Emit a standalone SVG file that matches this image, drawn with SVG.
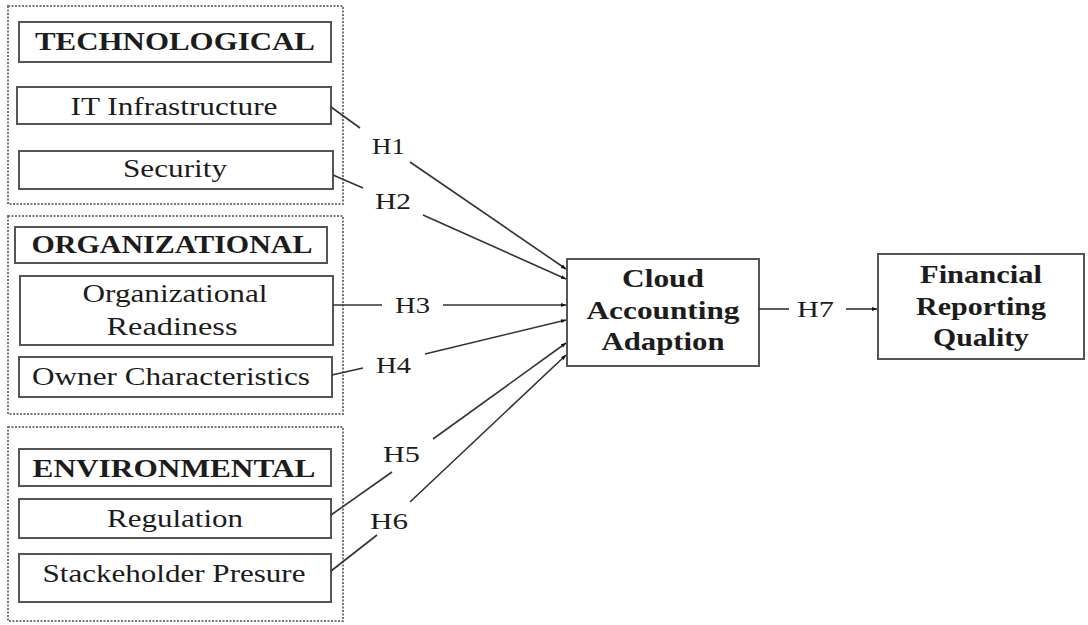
<svg xmlns="http://www.w3.org/2000/svg" width="1088" height="625" viewBox="0 0 1088 625">
<defs>
<style>
.grp{fill:none;stroke:#777;stroke-width:2;stroke-dasharray:2,1.5}
.box{fill:#fff;stroke:#555;stroke-width:2}
.t{font-family:"Liberation Serif","Times New Roman",Times,serif;fill:#1c1c1c;text-anchor:middle}
.h{font-size:26px;font-weight:bold}
.r{font-size:25px}
.b{font-size:25px;font-weight:bold}
.lbl{font-family:"Liberation Serif","Times New Roman",Times,serif;fill:#1c1c1c;font-size:23px}
.c{fill:none;stroke:#333;stroke-width:1.6}
</style>
<marker id="ah" viewBox="0 0 10 10" refX="10" refY="5" markerWidth="5" markerHeight="5" orient="auto" markerUnits="userSpaceOnUse">
<path d="M0,1 L10,5 L0,9 z" fill="#111"/>
</marker>
</defs>
<rect width="1088" height="625" fill="#fff"/>

<g id="group-technological">
<rect class="grp" x="8" y="6" width="335" height="198"/>
</g>
<g id="group-organizational">
<rect class="grp" x="8" y="216" width="335" height="198"/>
</g>
<g id="group-environmental">
<rect class="grp" x="8" y="427" width="335" height="194"/>
</g>

<g id="technological">
<rect class="box" x="19" y="22" width="312" height="40"/>
<text class="t h" x="175" y="50" textLength="280" lengthAdjust="spacingAndGlyphs">TECHNOLOGICAL</text>
</g>
<g id="it-infrastructure">
<rect class="box" x="17" y="87" width="314" height="37"/>
<text class="t r" x="174" y="115" textLength="207" lengthAdjust="spacingAndGlyphs">IT Infrastructure</text>
</g>
<g id="security">
<rect class="box" x="19" y="151" width="314" height="38"/>
<text class="t r" x="175" y="177" textLength="104" lengthAdjust="spacingAndGlyphs">Security</text>
</g>

<g id="organizational">
<rect class="box" x="15" y="227" width="312" height="36"/>
<text class="t h" x="172" y="253" textLength="281" lengthAdjust="spacingAndGlyphs">ORGANIZATIONAL</text>
</g>
<g id="organizational-readiness">
<rect class="box" x="20" y="276" width="313" height="69"/>
<text class="t r" x="175" y="302" textLength="185" lengthAdjust="spacingAndGlyphs">Organizational</text>
<text class="t r" x="172" y="335" textLength="131" lengthAdjust="spacingAndGlyphs">Readiness</text>
</g>
<g id="owner-characteristics">
<rect class="box" x="19" y="357" width="313" height="40"/>
<text class="t r" x="171" y="385" textLength="278" lengthAdjust="spacingAndGlyphs">Owner Characteristics</text>
</g>

<g id="environmental">
<rect class="box" x="19" y="449" width="312" height="37"/>
<text class="t h" x="174" y="477" textLength="283" lengthAdjust="spacingAndGlyphs">ENVIRONMENTAL</text>
</g>
<g id="regulation">
<rect class="box" x="19" y="499" width="312" height="39"/>
<text class="t r" x="175" y="527" textLength="136" lengthAdjust="spacingAndGlyphs">Regulation</text>
</g>
<g id="stakeholder-pressure">
<rect class="box" x="19" y="554" width="312" height="48"/>
<text class="t r" x="174" y="582" textLength="263" lengthAdjust="spacingAndGlyphs">Stackeholder Presure</text>
</g>

<g id="cloud-accounting-adaption">
<rect class="box" x="567" y="259" width="192" height="107"/>
<text class="t b" x="663" y="287" textLength="82" lengthAdjust="spacingAndGlyphs">Cloud</text>
<text class="t b" x="663" y="319" textLength="153" lengthAdjust="spacingAndGlyphs">Accounting</text>
<text class="t b" x="663" y="350" textLength="123" lengthAdjust="spacingAndGlyphs">Adaption</text>
</g>

<g id="financial-reporting-quality">
<rect class="box" x="878" y="254" width="206" height="105"/>
<text class="t b" x="981" y="283" textLength="122" lengthAdjust="spacingAndGlyphs">Financial</text>
<text class="t b" x="981" y="315" textLength="130" lengthAdjust="spacingAndGlyphs">Reporting</text>
<text class="t b" x="981" y="346" textLength="96" lengthAdjust="spacingAndGlyphs">Quality</text>
</g>

<g id="connectors">
<line class="c" x1="331" y1="107" x2="360" y2="128"/>
<line class="c" x1="410" y1="162" x2="566" y2="269" marker-end="url(#ah)"/>
<text class="lbl" x="372" y="154" textLength="33" lengthAdjust="spacingAndGlyphs">H1</text>

<line class="c" x1="333" y1="175" x2="363" y2="188"/>
<line class="c" x1="423" y1="215" x2="566" y2="279" marker-end="url(#ah)"/>
<text class="lbl" x="375" y="209" textLength="36" lengthAdjust="spacingAndGlyphs">H2</text>

<line class="c" x1="333" y1="305" x2="382" y2="305"/>
<line class="c" x1="443" y1="305" x2="566" y2="305" marker-end="url(#ah)"/>
<text class="lbl" x="395" y="313" textLength="35" lengthAdjust="spacingAndGlyphs">H3</text>

<line class="c" x1="332" y1="375" x2="363" y2="368"/>
<line class="c" x1="425" y1="354" x2="566" y2="320" marker-end="url(#ah)"/>
<text class="lbl" x="376" y="373" textLength="35" lengthAdjust="spacingAndGlyphs">H4</text>

<line class="c" x1="331" y1="515" x2="392" y2="472"/>
<line class="c" x1="433" y1="439" x2="566" y2="343" marker-end="url(#ah)"/>
<text class="lbl" x="383" y="462" textLength="37" lengthAdjust="spacingAndGlyphs">H5</text>

<line class="c" x1="331" y1="571" x2="377" y2="535"/>
<line class="c" x1="410" y1="502" x2="566" y2="355" marker-end="url(#ah)"/>
<text class="lbl" x="370" y="529" textLength="38" lengthAdjust="spacingAndGlyphs">H6</text>

<line class="c" x1="759" y1="309" x2="789" y2="309"/>
<line class="c" x1="846" y1="309" x2="877" y2="309" marker-end="url(#ah)"/>
<text class="lbl" x="797" y="317" textLength="37" lengthAdjust="spacingAndGlyphs">H7</text>
</g>
</svg>
